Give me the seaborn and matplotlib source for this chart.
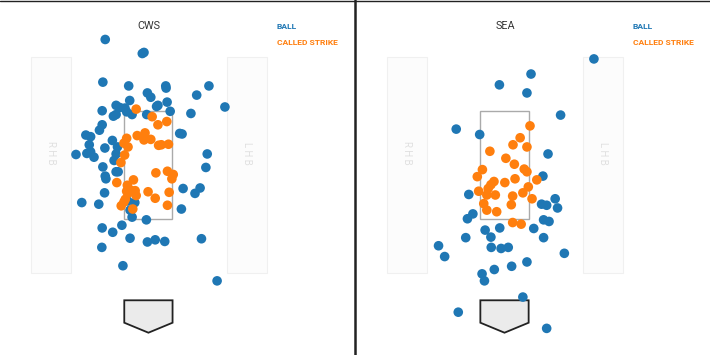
import matplotlib
matplotlib.use("Agg")
import matplotlib.pyplot as plt
import seaborn as sns
import pandas as pd
from matplotlib.patches import Rectangle, Polygon
from matplotlib.lines import Line2D

sns.set_style("white")
plt.rcParams['font.family'] = ['Roboto', 'DejaVu Sans']

teams = ["CWS", "SEA"]
calls = ["BALL", "CALLED STRIKE"]
palette = {"BALL": "#1f77b4", "CALLED STRIKE": "#ff7f0e"}

# pitch locations (feet): horizontal plate_x, vertical plate_z
cws_ball_x = [-1.27, -0.18, -0.13, -1.34, -0.58, 0.51, 0.52, 1.78, 1.42, -0.03,
              0.07, -0.55, 0.55, 0.28, 0.24, 2.25, -1.36, -0.95, -0.84, -0.69,
              -0.64, -0.48, -1.03, -0.95, -0.05, 0.64, 1.25, -1.36, -1.44, -1.84,
              -1.70, 0.92, 0.99, -1.06, -1.74, -1.28, -0.91, -1.81, -1.70, -1.60,
              -2.13, -0.95, -1.01, 1.73, -1.34, 1.69, -0.95, -0.89, -1.27, -1.25,
              1.02, 1.52, 1.37, -1.29, -1.96, -1.46, -0.40, -0.61, -0.54, -0.48,
              0.97, -0.06, -0.78, -1.36, -1.05, -0.54, -0.03, 0.20, 0.48, 1.56,
              -1.37, -0.75, 2.02]
cws_ball_z = [4.83, 4.57, 4.59, 4.04, 3.97, 3.97, 3.93, 3.97, 3.80, 3.84,
              3.76, 3.70, 3.67, 3.61, 3.59, 3.58, 3.51, 3.61, 3.57, 3.56,
              3.49, 3.44, 3.41, 3.44, 3.44, 3.50, 3.46, 3.25, 3.15, 3.06,
              3.03, 3.09, 3.08, 2.96, 2.88, 2.82, 2.84, 2.72, 2.75, 2.65,
              2.70, 2.71, 2.59, 2.71, 2.47, 2.46, 2.38, 2.38, 2.30, 2.25,
              2.07, 2.08, 1.98, 1.99, 1.81, 1.78, 1.81, 1.84, 1.67, 1.54,
              1.69, 1.49, 1.39, 1.34, 1.26, 1.15, 1.08, 1.12, 1.09, 1.14,
              0.98, 0.64, 0.36]
cws_strike_x = [-0.36, 0.11, 0.54, 0.28, -0.33, -0.10, -0.13, 0.07, -0.64, -0.72,
                -0.60, 0.30, 0.38, 0.59, -0.70, -0.81, 0.22, 0.56, 0.73, 0.69,
                -0.44, -0.93, -0.62, -0.64, -0.52, -0.39, -0.36, -0.60, -0.01, 0.61,
                0.20, -0.68, -0.72, -0.80, 0.56, -0.46]
cws_strike_z = [3.54, 3.40, 3.31, 3.25, 3.05, 3.10, 2.97, 2.98, 3.00, 2.91,
                2.84, 2.87, 2.88, 2.89, 2.69, 2.55, 2.36, 2.39, 2.33, 2.25,
                2.23, 2.18, 2.13, 2.02, 2.04, 2.03, 1.94, 1.98, 2.01, 2.00,
                1.89, 1.87, 1.82, 1.75, 1.76, 1.69]

sea_ball_x = [2.63, 0.78, -0.15, 0.66, 1.65, -1.42, -0.73, 1.28, 1.13, -1.05,
              1.49, 1.09, 1.24, 1.56, -0.93, -1.09, 1.15, 1.31, -0.57, -0.14,
              0.86, -1.14, -0.40, 1.15, -1.94, -0.39, -0.10, 0.11, 1.76, -1.76,
              0.66, 0.21, -0.30, -0.66, -0.59, 0.54, -1.36, 1.24]
sea_ball_z = [4.47, 4.19, 3.99, 3.84, 3.43, 3.17, 3.07, 2.71, 2.30, 1.96,
              1.88, 1.78, 1.76, 1.71, 1.60, 1.51, 1.49, 1.46, 1.30, 1.34,
              1.33, 1.16, 1.17, 1.16, 1.01, 0.98, 0.96, 0.98, 0.87, 0.81,
              0.71, 0.63, 0.57, 0.49, 0.36, 0.06, -0.22, -0.52]
sea_strike_x = [0.75, 0.46, 0.25, 0.66, -0.43, 0.04, 0.29, 0.58, 0.66, -0.65,
                -0.80, 0.31, 0.95, -0.31, -0.40, -0.48, 0.01, 0.70, -0.76, -0.52,
                -0.27, 0.54, 0.24, 0.81, -0.61, 0.20, -0.52, -0.23, 0.24, 0.49]
sea_strike_z = [3.23, 3.01, 2.88, 2.84, 2.76, 2.63, 2.52, 2.43, 2.38, 2.42,
                2.29, 2.25, 2.23, 2.20, 2.14, 2.07, 2.18, 2.10, 2.02, 1.95,
                1.95, 1.99, 1.93, 1.88, 1.79, 1.77, 1.67, 1.64, 1.44, 1.41]

pitches = {
    "CWS": (cws_ball_x, cws_ball_z, cws_strike_x, cws_strike_z),
    "SEA": (sea_ball_x, sea_ball_z, sea_strike_x, sea_strike_z),
}

fig = plt.figure(figsize=(7.1, 3.55), dpi=100)
axes_pos = [[0.0, 0.0, 0.5, 1.0], [0.5, 0.0, 0.5, 1.0]]
xlims = [(-4.365, 6.076), (-4.397, 6.044)]
ylim = (-1.013, 5.561)

for i, team in enumerate(teams):
    bx, bz, sx, sz = pitches[team]
    df = pd.DataFrame({
        "plate_x": bx + sx,
        "plate_z": bz + sz,
        "call": ["BALL"] * len(bx) + ["CALLED STRIKE"] * len(sx),
    })
    ax = fig.add_axes(axes_pos[i])

    # batter boxes
    for bx0, lab in [(-3.46, "R H B"), (2.30, "L H B")]:
        ax.add_patch(Rectangle((bx0, 0.50), 1.18, 4.01, facecolor="#fcfcfc",
                               edgecolor="#f0f0f0", lw=0.8, zorder=0))
        ax.text(bx0 + 0.59, 2.73, lab, rotation=-90, ha="center", va="center",
                fontsize=7, color="#e0e0e0", zorder=1)

    # strike zone
    ax.add_patch(Rectangle((-0.706, 1.5), 1.412, 2.01, facecolor="none",
                           edgecolor="#aaaaaa", lw=1.0, zorder=1))
    # home plate
    ax.add_patch(Polygon([(-0.71, 0.0), (0.71, 0.0), (0.71, -0.415),
                          (0.0, -0.60), (-0.71, -0.415)], closed=True,
                         facecolor="#ebebeb", edgecolor="#222222", lw=1.3, zorder=1))

    sns.scatterplot(data=df, x="plate_x", y="plate_z", hue="call",
                    hue_order=calls, palette=palette, s=48, linewidth=0,
                    alpha=1.0, legend=False, ax=ax, zorder=3)
    ax.set_xlim(*xlims[i])
    ax.set_ylim(*ylim)
    ax.axis("off")

    ax.text(0.02, 5.08, team, ha="center", va="center", fontsize=7.8,
            color="#333333")
    ax.text(3.77, 5.07, "BALL", ha="left", va="center", fontsize=6.1,
            fontweight="bold", color=palette["BALL"])
    ax.text(3.77, 4.77, "CALLED STRIKE", ha="left", va="center", fontsize=6.1,
            fontweight="bold", color=palette["CALLED STRIKE"])

# panel borders
fig.add_artist(Line2D([0, 1], [0.9985, 0.9985], transform=fig.transFigure,
                      color="#222222", lw=1.0))
fig.add_artist(Line2D([354.5 / 710, 354.5 / 710], [0, 1], transform=fig.transFigure,
                      color="#222222", lw=1.8))

fig.savefig("out.png", dpi=100)
